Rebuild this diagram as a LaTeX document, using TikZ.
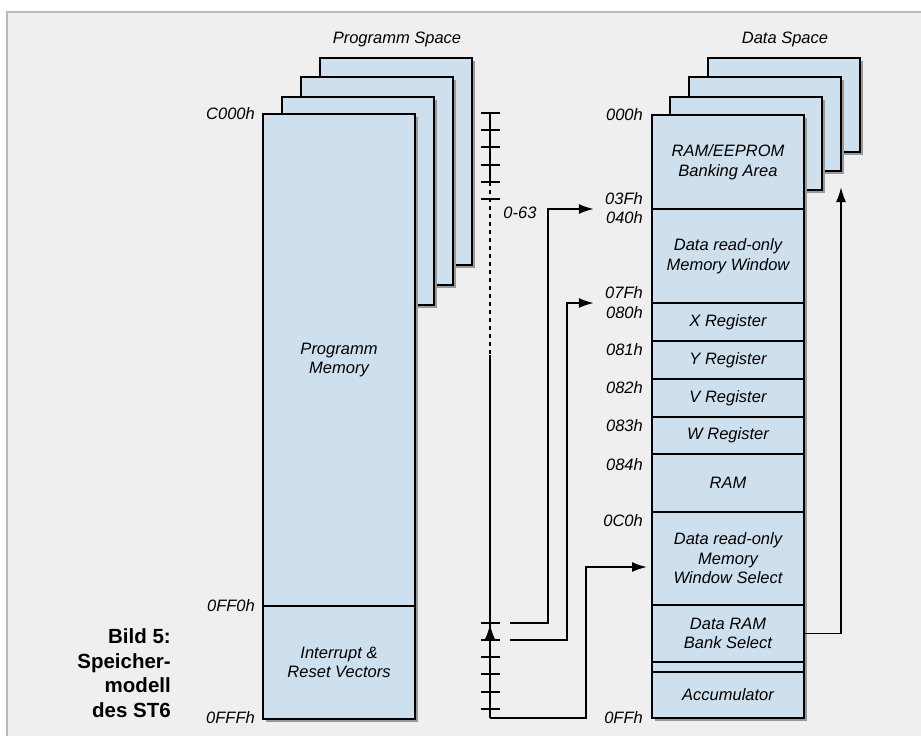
\documentclass[tikz,border=0pt]{standalone}
\usepackage{fontspec}
\setmainfont{Liberation Sans}
\usetikzlibrary{arrows.meta, shadows}
\definecolor{memblue}{RGB}{206,224,238}
\definecolor{panelgray}{RGB}{239,239,239}
\definecolor{panelline}{RGB}{185,185,185}
\newcommand{\memfont}{\fontsize{16.5}{19.5}\selectfont\itshape}

\begin{document}
\begin{tikzpicture}[
  x=1pt, y=-1pt,
  shad/.style={drop shadow={shadow xshift=2.5pt, shadow yshift=-2.5pt, fill=black!40, opacity=1}},
  page/.style={draw, line width=2.6pt, fill=memblue, shad},
  cell/.style={draw, line width=2.6pt, fill=memblue, shad, minimum width=152pt,
               inner sep=0pt, outer sep=0pt, align=center, font=\memfont},
  addr/.style={anchor=east, inner sep=0pt, font=\memfont},
  ttl/.style={inner sep=0pt, font=\memfont},
  capt/.style={anchor=east, align=right, inner sep=0pt,
               font=\fontsize{20.5}{24.5}\selectfont\bfseries},
  tick/.style={line width=1.9pt},
  arr/.style={-{Latex[length=15pt, width=10pt]}, line width=1.9pt},
]
\useasboundingbox (0,0) rectangle (921,736);

% Panel
\fill[panelgray] (7,12) rectangle (930,745);
\draw[panelline, line width=1.5pt] (7,745) -- (7,12) -- (930,12);

% Titles
\node[ttl] (ptitle) at (397,39) {Programm Space};
\node[ttl] (dtitle) at (785,39) {Data Space};

% Programm space, pages behind
\draw[page] (320,58) rectangle (472,265);
\draw[page] (301,77) rectangle (453,285);
\draw[page] (282,97) rectangle (434,305);

% Programm space, front page
\node[cell, minimum height=492pt] (pmem) at (339,360) {Programm\\Memory};
\node[cell, minimum height=113pt] (pvec) at (339,662.5) {Interrupt \&\\Reset Vectors};

\node[addr] (pc000) at (255,114) {C000h};
\node[addr] (pff0)  at (255,606) {0FF0h};
\node[addr] (pfff)  at (255,718) {0FFFh};

% Data space, pages behind
\draw[page] (708,58) rectangle (860,152);
\draw[page] (689,77) rectangle (841,171);
\draw[page] (670,97) rectangle (822,190);

% Data space, front page
\node[cell, minimum height=94pt] (dbank) at (728,162)   {RAM/EEPROM\\Banking Area};
\node[cell, minimum height=94pt] (drwin) at (728,256)   {Data read-only\\Memory Window};
\node[cell, minimum height=38pt] (dx)    at (728,322)   {X Register};
\node[cell, minimum height=38pt] (dy)    at (728,360)   {Y Register};
\node[cell, minimum height=38pt] (dv)    at (728,398)   {V Register};
\node[cell, minimum height=37pt] (dw)    at (728,435.5) {W Register};
\node[cell, minimum height=58pt] (dram)  at (728,483)   {RAM};
\node[cell, minimum height=93pt] (dwsel) at (728,558.5) {Data read-only\\Memory\\Window Select};
\node[cell, minimum height=57pt] (dbsel) at (728,633.5) {Data RAM\\Bank Select};
\node[cell, minimum height=10pt] (dslot) at (728,667)   {};
\node[cell, minimum height=46pt] (dacc)  at (728,695)   {Accumulator};

% Data addresses
\node[addr] (a000) at (643,115) {000h};
\node[addr] (a03f) at (643,199) {03Fh};
\node[addr] (a040) at (643,218) {040h};
\node[addr] (a07f) at (643,293) {07Fh};
\node[addr] (a080) at (643,313) {080h};
\node[addr] (a081) at (643,350) {081h};
\node[addr] (a082) at (643,388) {082h};
\node[addr] (a083) at (643,426) {083h};
\node[addr] (a084) at (643,465) {084h};
\node[addr] (a0c0) at (643,521) {0C0h};
\node[addr] (a0ff) at (643,718) {0FFh};

% Bank scale
\coordinate (bartop) at (490,113);
\coordinate (barend) at (490,718);
\coordinate (sel0) at (510,623);
\coordinate (sel1) at (510,640);
\coordinate (bankup) at (841,187);
\draw[tick] (bartop) -- (490,182);
\draw[tick, dash pattern=on 4pt off 4pt] (490,182) -- (490,355);
\draw[tick] (490,355) -- (barend);
\foreach \y in {113,130,147,165,182,199}
  \draw[tick] (481,\y) -- (500,\y);
\foreach \y in {623,640,657,674,692,709}
  \draw[tick] (481,\y) -- (500,\y);
\draw[arr] (490,646) -- (490,624);
\node[ttl] (range) at (520,213) {0-63};

% Arrows to data space
\draw[arr] (sel0) -- ++(38,0) |- ([xshift=-12pt]a040.west |- drwin.north);
\draw[arr] (sel1) -- ++(57,0) |- ([xshift=-12pt]a080.west |- dx.north);
\draw[arr] (barend) -- ++(96,0) |- ([xshift=-5pt, yshift=-8.5pt]dwsel.west);
\draw[arr] (dbsel.east) -| (bankup);

% Caption
\node[capt] (cap) at (171,673) {Bild 5:\\Speicher-\\modell\\des ST6};

\end{tikzpicture}
\end{document}
